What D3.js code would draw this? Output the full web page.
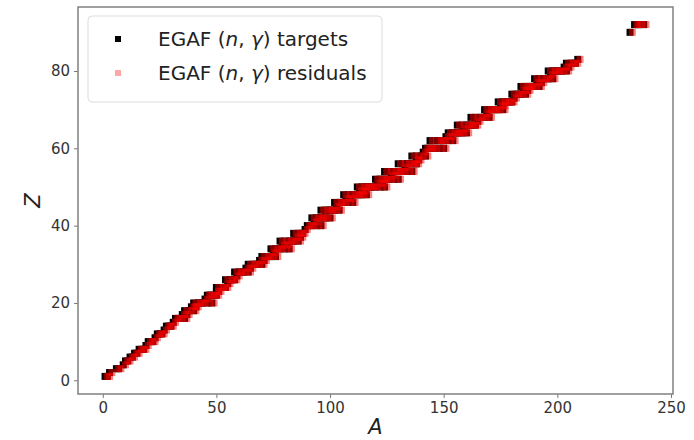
<!DOCTYPE html>
<html>
<head>
<meta charset="utf-8">
<script src="https://cdn.jsdelivr.net/npm/d3@7"></script>
<style>
  body { margin: 0; background: #fff; }
  svg { font-family: "DejaVu Sans", sans-serif; }
</style>
</head>
<body>
<script>
// (n,gamma) targets: [Z, [A...]]
var targets = [
  [1,[1,2]],[2,[3]],[3,[6,7]],[4,[9]],[5,[10,11]],[6,[12,13]],[7,[14,15]],
  [8,[16,17,18]],[9,[19]],[10,[20,21,22]],[11,[23]],[12,[24,25,26]],[13,[27]],
  [14,[28,29,30]],[15,[31]],[16,[32,33,34,36]],[17,[35,37]],[18,[36,38,40]],
  [19,[39,40,41]],[20,[40,42,43,44,46,48]],[21,[45]],[22,[46,47,48,49,50]],
  [23,[50,51]],[24,[50,52,53,54]],[25,[55]],[26,[54,56,57,58]],[27,[59]],
  [28,[58,60,61,62,64]],[29,[63,65]],[30,[64,66,67,68,70]],[31,[69,71]],
  [32,[70,72,73,74,76]],[33,[75]],[34,[74,76,77,78,80,82]],[35,[79,81]],
  [36,[78,80,82,83,84,86]],[37,[85,87]],[38,[84,86,87,88]],[39,[89]],
  [40,[90,91,92,94,96]],[41,[93]],[42,[92,94,95,96,97,98,100]],
  [44,[96,98,99,100,101,102,104]],[45,[103]],[46,[102,104,105,106,108,110]],
  [47,[107,109]],[48,[106,108,110,111,112,113,114,116]],[49,[113,115]],
  [50,[112,114,115,116,117,118,119,120,122,124]],[51,[121,123]],
  [52,[120,122,123,124,125,126,128,130]],[53,[127]],
  [54,[124,126,128,129,130,131,132,134,136]],[55,[133]],
  [56,[130,132,134,135,136,137,138]],[57,[138,139]],[58,[136,138,140,142]],
  [59,[141]],[60,[142,143,144,145,146,148,150]],[62,[144,147,148,149,150,152,154]],
  [63,[151,153]],[64,[152,154,155,156,157,158,160]],[65,[159]],
  [66,[156,158,160,161,162,163,164]],[67,[165]],[68,[162,164,166,167,168,170]],
  [69,[169]],[70,[168,170,171,172,173,174,176]],[71,[175,176]],
  [72,[174,176,177,178,179,180]],[73,[181]],[74,[180,182,183,184,186]],
  [75,[185,187]],[76,[184,186,187,188,189,190,192]],[77,[191,193]],
  [78,[190,192,194,195,196,198]],[79,[197]],[80,[196,198,199,200,201,202,204]],
  [81,[203,205]],[82,[204,206,207,208]],[83,[209]],[90,[232]],[92,[234,235,236,238]]
];

// (n,gamma) residuals: [Z, [A...]]
var residuals = [
  [1,[2,3]],[2,[4]],[3,[7,8]],[4,[10]],[5,[11,12]],[6,[13,14]],[7,[15,16]],
  [8,[17,18,19]],[9,[20]],[10,[21,22,23]],[11,[24]],[12,[25,26,27]],[13,[28]],
  [14,[29,30,31]],[15,[32]],[16,[33,34,35,37]],[17,[36,38]],[18,[37,39,41]],
  [19,[40,41,42]],[20,[41,43,44,45,47,49]],[21,[46]],[22,[47,48,49,50,51]],
  [23,[51,52]],[24,[51,53,54,55]],[25,[56]],[26,[55,57,58,59]],[27,[60]],
  [28,[59,61,62,63,65]],[29,[64,66]],[30,[65,67,68,69,71]],[31,[70,72]],
  [32,[71,73,74,75,77]],[33,[76]],[34,[75,77,78,79,81,83]],[35,[80,82]],
  [36,[79,81,83,84,85,87]],[37,[86,88]],[38,[85,87,88,89]],[39,[90]],
  [40,[91,92,93,95,97]],[41,[94]],[42,[93,95,96,97,98,99,101]],
  [44,[97,99,100,101,102,103,105]],[45,[104]],[46,[103,105,106,107,109,111]],
  [47,[108,110]],[48,[107,109,111,112,113,114,115,117]],[49,[114,116]],
  [50,[113,115,116,117,118,119,120,121,123,125]],[51,[122,124]],
  [52,[121,123,124,125,126,127,129,131]],[53,[128]],
  [54,[125,127,129,130,131,132,133,135,137]],[55,[134]],
  [56,[131,133,135,136,137,138,139]],[57,[139,140]],[58,[137,139,141,143]],
  [59,[142]],[60,[143,144,145,146,147,149,151]],[62,[145,148,149,150,151,153,155]],
  [63,[152,154]],[64,[153,155,156,157,158,159,161]],[65,[160]],
  [66,[157,159,161,162,163,164,165]],[67,[166]],[68,[163,165,167,168,169,171]],
  [69,[170]],[70,[169,171,172,173,174,175,177]],[71,[176,177]],
  [72,[175,177,178,179,180,181]],[73,[182]],[74,[181,183,184,185,187]],
  [75,[186,188]],[76,[185,187,188,189,190,191,193]],[77,[192,194]],
  [78,[191,193,195,196,197,199]],[79,[198]],[80,[197,199,200,201,202,203,205]],
  [81,[204,206]],[82,[205,207,208,209]],[83,[210]],[90,[233]],[92,[235,236,237,239]]
];

var xTicks = [0, 50, 100, 150, 200, 250];
var yTicks = [0, 20, 40, 60, 80];
var legendLabels = ["targets", "residuals"];

var W = 694, H = 440;
var plot = {left: 78, right: 673, top: 7, bottom: 394};
var mk = 7;

function flatten(list){
  var out = [];
  list.forEach(function(d){
    d[1].forEach(function(a){ out.push({z: d[0], a: a}); });
  });
  return out;
}

var svg = d3.select("body").append("svg")
  .attr("width", W).attr("height", H);

var x = d3.scaleLinear().domain([-10.9, 250.9]).range([plot.left, plot.right]);
var y = d3.scaleLinear().domain([-3.55, 96.55]).range([plot.bottom, plot.top]);

// points
svg.append("g").selectAll("rect")
  .data(flatten(targets))
  .enter().append("rect")
  .attr("x", function(d){ return x(d.a) - mk/2; })
  .attr("y", function(d){ return y(d.z) - mk/2; })
  .attr("width", mk).attr("height", mk)
  .style("fill", "#000");

svg.append("g").selectAll("rect")
  .data(flatten(residuals))
  .enter().append("rect")
  .attr("x", function(d){ return x(d.a) - mk/2; })
  .attr("y", function(d){ return y(d.z) - mk/2; })
  .attr("width", mk).attr("height", mk)
  .style("fill", "red")
  .style("fill-opacity", 0.5);

// axes
var xAxis = svg.append("g")
  .attr("transform", "translate(0," + plot.bottom + ")")
  .call(d3.axisBottom(x).tickValues(xTicks).tickSize(4).tickPadding(4));
var yAxis = svg.append("g")
  .attr("transform", "translate(" + plot.left + ",0)")
  .call(d3.axisLeft(y).tickValues(yTicks).tickSize(4).tickPadding(4));

[xAxis, yAxis].forEach(function(g){
  g.select(".domain").remove();
  g.selectAll("line").style("stroke", "#777").style("stroke-width", 1);
  g.selectAll("text").style("font-size", "15px").style("fill", "#333")
    .style("font-family", "DejaVu Sans, sans-serif");
});

// frame
svg.append("rect")
  .attr("x", plot.left).attr("y", plot.top)
  .attr("width", plot.right - plot.left).attr("height", plot.bottom - plot.top)
  .style("fill", "none").style("stroke", "#808080").style("stroke-width", 1.5);

// axis labels
svg.append("text")
  .attr("x", (plot.left + plot.right) / 2).attr("y", 434)
  .attr("text-anchor", "middle")
  .style("font-size", "21px").style("font-style", "italic").style("fill", "#222")
  .text("A");

svg.append("text")
  .attr("transform", "translate(40," + ((plot.top + plot.bottom) / 2) + ") rotate(-90)")
  .attr("text-anchor", "middle")
  .style("font-size", "21px").style("font-style", "italic").style("fill", "#222")
  .text("Z");

// legend
var lg = svg.append("g");
lg.append("rect")
  .attr("x", 88).attr("y", 16).attr("width", 294).attr("height", 86).attr("rx", 4)
  .style("fill", "#fff").style("fill-opacity", 0.8)
  .style("stroke", "#ddd").style("stroke-width", 1);

var rows = lg.selectAll("g.row").data(legendLabels).enter().append("g")
  .attr("transform", function(d, i){ return "translate(0," + (39 + i * 34) + ")"; });

rows.append("rect")
  .attr("x", 115).attr("y", -3).attr("width", 6).attr("height", 6)
  .style("fill", function(d, i){ return i === 0 ? "#000" : "red"; })
  .style("fill-opacity", function(d, i){ return i === 0 ? 1 : 0.35; });

var lt = rows.append("text")
  .attr("x", 158).attr("y", 7)
  .style("font-size", "20px").style("fill", "#222");
lt.append("tspan").text("EGAF (");
lt.append("tspan").style("font-style", "italic").text("n");
lt.append("tspan").text(", ");
lt.append("tspan").style("font-style", "italic").text("γ");
lt.append("tspan").text(") " );
lt.append("tspan").text(function(d){ return d; });
</script>
</body>
</html>
